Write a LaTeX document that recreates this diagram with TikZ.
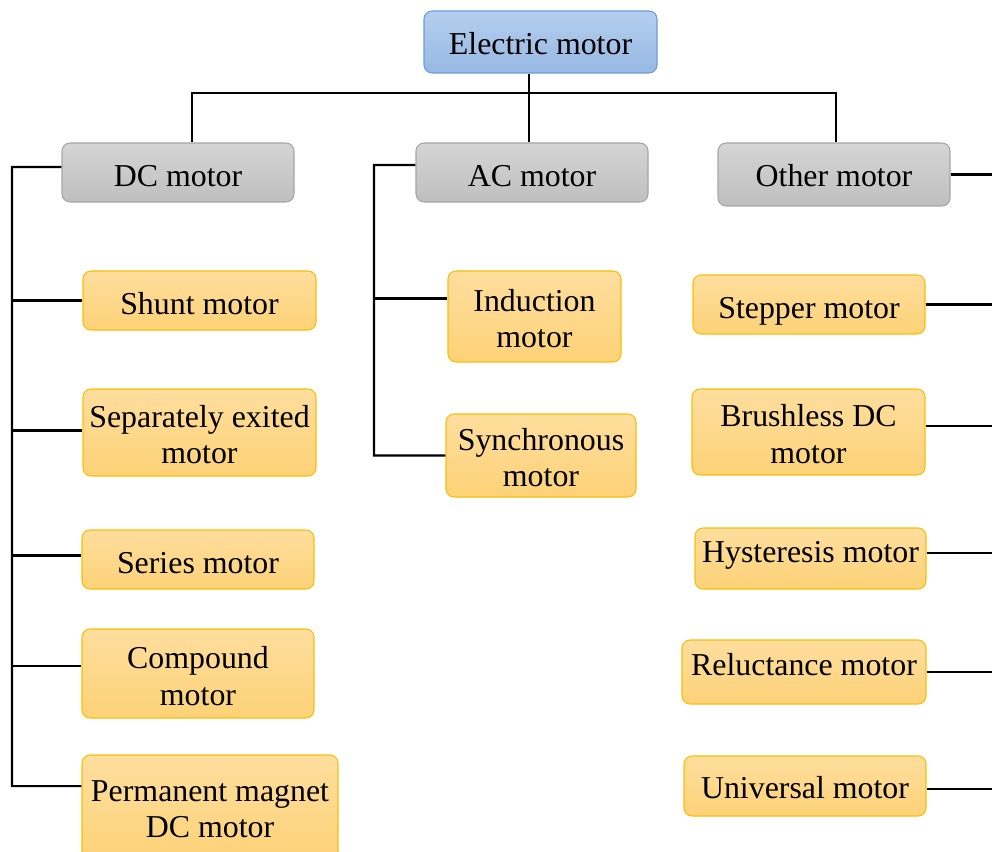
\documentclass[tikz,border=0pt]{standalone}
\usepackage{fontspec}
\setmainfont{Liberation Serif}
\definecolor{bluetop}{HTML}{B4CEEE}
\definecolor{bluebot}{HTML}{97B8E3}
\definecolor{blueline}{HTML}{6C9CD6}
\definecolor{graytop}{HTML}{D5D5D5}
\definecolor{graybot}{HTML}{BFBFBF}
\definecolor{grayline}{HTML}{A6A6A6}
\definecolor{orgtop}{HTML}{FEDE9E}
\definecolor{orgbot}{HTML}{FDD277}
\definecolor{orgline}{HTML}{F7BF0A}
\newcommand\dn[2]{\raisebox{-#1}[\height][\depth]{#2}}
\tikzset{
  x=0.75pt, y=-0.75pt,
  sz/.style 2 args={minimum width=#1*0.75pt, minimum height=#2*0.75pt},
  basebox/.style={rectangle, rounded corners=6pt, line width=0.8pt, inner sep=1pt,
    align=center, font=\fontsize{23.9}{27.4}\selectfont, text=black},
  bluebox/.style={basebox, draw=blueline, top color=bluetop, bottom color=bluebot},
  graybox/.style={basebox, draw=grayline, top color=graytop, bottom color=graybot},
  orgbox/.style={basebox, draw=orgline, top color=orgtop, bottom color=orgbot},
  conn/.style={draw=black, line width=1.6pt}
}
\begin{document}
\begin{tikzpicture}
\useasboundingbox (0,0) rectangle (992,852);
% top level
\node[bluebox, sz={233}{62}] (em) at (540.5,42) {\dn{1.5pt}{Electric motor}};
\node[graybox, sz={232}{59}] (dc) at (178,172.5) {\dn{3pt}{DC motor}};
\node[graybox, sz={232}{59}] (ac) at (532,172.5) {\dn{3pt}{AC motor}};
\node[graybox, sz={232}{63}] (ot) at (834,174.5) {\dn{0.75pt}{Other motor}};
% DC children
\node[orgbox, sz={233}{59}] (sh) at (199.5,300.5) {\dn{2.25pt}{Shunt motor}};
\node[orgbox, sz={233}{87}] (se) at (199.5,432.5) {\dn{1.5pt}{Separately exited}\\\dn{1.5pt}{motor}};
\node[orgbox, sz={232}{59}] (sr) at (198,559.5) {\dn{3pt}{Series motor}};
\node[orgbox, sz={232}{89}] (cp) at (198,673.5) {\dn{1.9pt}{Compound}\\\dn{1.9pt}{motor}};
\node[orgbox, sz={256}{108}] (pm) at (210,809) {Permanent magnet\\DC motor};
% AC children
\node[orgbox, sz={173}{91}] (in) at (534.5,316.5) {\dn{1.5pt}{Induction}\\\dn{1.5pt}{motor}};
\node[orgbox, sz={190}{83}] (sy) at (541,455.5) {\dn{1.5pt}{Synchronous}\\\dn{1.5pt}{motor}};
% Other children
\node[orgbox, sz={232}{59}] (st) at (809,304.5) {\dn{5.25pt}{Stepper motor}};
\node[orgbox, sz={233}{86}] (bl) at (808.5,432) {\dn{1.5pt}{Brushless DC}\\\dn{1.5pt}{motor}};
\node[orgbox, sz={231}{61}] (hy) at (810.5,558.5) {\dn{-2.6pt}{Hysteresis motor}};
\node[orgbox, sz={244}{64}] (rl) at (804,672) {\dn{-5.25pt}{Reluctance motor}};
\node[orgbox, sz={242}{60}] (un) at (805,786) {\dn{1.1pt}{Universal motor}};
% helper coordinates
\coordinate (hub) at (529,93);
\coordinate (b1) at (192,93);
\coordinate (b3) at (836,93);
\coordinate (dcb) at (12,167);
\coordinate (acb) at (374,165);
\coordinate (rb) at (1000,172);
\coordinate (dcw) at ([yshift=4.1pt]dc.west);
\coordinate (acw) at ([yshift=5.6pt]ac.west);
\coordinate (srw) at ([yshift=3pt]sr.west);
\coordinate (cpw) at ([yshift=5.6pt]cp.west);
\coordinate (pmw) at ([yshift=17.2pt]pm.west);
\coordinate (inw) at ([yshift=13.5pt]in.west);
\coordinate (sew) at ([yshift=1.5pt]se.west);
\coordinate (blw) at ([yshift=4.5pt]bl.east);
\coordinate (hyw) at ([yshift=4pt]hy.east);
\coordinate (unw) at ([yshift=-2.2pt]un.east);
% top connectors
\draw[conn] (hub |- em.south) -- (hub |- ac.north);
\draw[conn] (b1 |- dc.north) -- (b1) -- (b3) -- (b3 |- ot.north);
% DC bus
\draw[conn] (dcw) -- (dcb) -- (dcb |- pmw) -- (pmw);
\draw[conn] (dcb |- sh.west) -- (sh.west);
\draw[conn] (dcb |- sew) -- (sew);
\draw[conn] (dcb |- srw) -- (srw);
\draw[conn] (dcb |- cpw) -- (cpw);
% AC bus
\draw[conn] (acw) -- (acb) -- (acb |- sy.west) -- (sy.west);
\draw[conn] (acb |- inw) -- (inw);
% Other (bus beyond right edge)
\draw[conn] (ot.east) -- (rb |- ot.east);
\draw[conn] (st.east) -- (rb |- st.east);
\draw[conn] (blw) -- (rb |- blw);
\draw[conn] (hyw) -- (rb |- hyw);
\draw[conn] (rl.east) -- (rb |- rl.east);
\draw[conn] (unw) -- (rb |- unw);
\end{tikzpicture}
\end{document}
